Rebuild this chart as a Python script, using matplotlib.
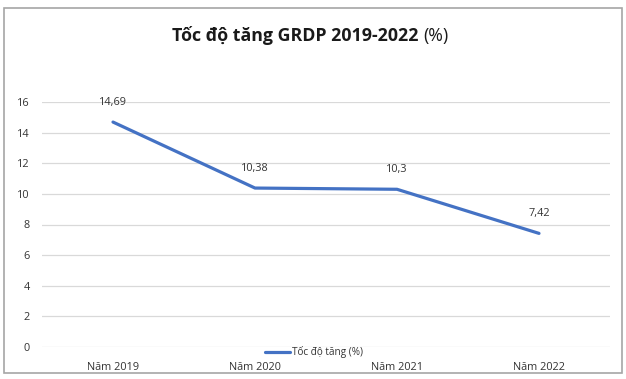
import numpy as np
import matplotlib.pyplot as plt
from matplotlib.patches import Rectangle

plt.rcParams['font.family'] = ['Open Sans', 'DejaVu Sans']

years = ['Năm 2019', 'Năm 2020', 'Năm 2021', 'Năm 2022']
growth = [14.69, 10.38, 10.3, 7.42]
series_name = 'Tốc độ tăng (%)'
yticks = np.arange(0, 17, 2)

fig = plt.figure(figsize=(6.26, 3.79), dpi=100)
ax = fig.add_axes([42 / 626, 32 / 379, 568 / 626, 245 / 379])

pos = np.arange(len(years))
line, = ax.plot(pos, growth, color='#4472C4', linewidth=2.3,
                solid_capstyle='round', label=series_name)

for x, v in zip(pos, growth):
    ax.annotate(f'{v:g}'.replace('.', ','), (x, v), xytext=(0, 14),
                textcoords='offset points', ha='center', va='center',
                fontsize=7.8, color='#333333')

ax.set_xlim(-0.5, len(years) - 0.5)
ax.set_ylim(0, 16)
ax.set_xticks(pos)
ax.set_xticklabels(years)
ax.set_yticks(yticks)
ax.tick_params(axis='both', length=0, labelsize=7.8, labelcolor='#333333')
ax.tick_params(axis='x', pad=11)
ax.tick_params(axis='y', pad=9)
ax.yaxis.grid(True, color='#d9d9d9', linewidth=0.9)
ax.set_axisbelow(True)
for s in ax.spines.values():
    s.set_visible(False)

title_y = 1 - 41 / 379
fig.text(418 / 626, title_y, 'Tốc độ tăng GRDP 2019-2022', ha='right',
         va='baseline', fontsize=12.8, fontweight='bold', color='#1a1a1a')
fig.text(423 / 626, title_y, '(%)', ha='left', va='baseline', fontsize=12.8,
         color='#1a1a1a')

fig.legend(handles=[line], loc='center', bbox_to_anchor=(314 / 626, 1 - 352 / 379),
           frameon=False, fontsize=7.2, labelcolor='#333333', handlelength=2.5,
           handletextpad=0.2)

fig.patches.append(Rectangle((4 / 626, 6 / 379), 618 / 626, 365 / 379,
                             transform=fig.transFigure, fill=False,
                             edgecolor='#a6a6a6', linewidth=1.2))

fig.savefig('out.png', dpi=100)
